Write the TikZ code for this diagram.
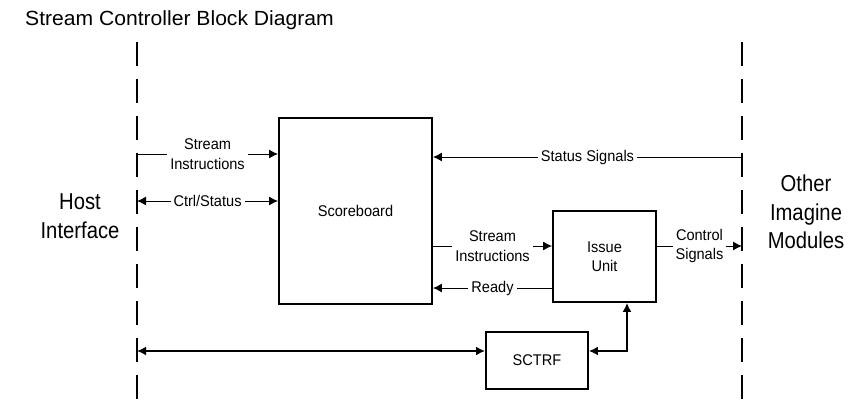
\documentclass[tikz,border=0pt]{standalone}
\usepackage{fontspec}
\setmainfont{Liberation Sans}
\newfontfamily\labfont[FakeStretch=0.94]{Liberation Sans}
\newfontfamily\bigfont[FakeStretch=0.88]{Liberation Sans}
\newfontfamily\titlefont[FakeStretch=1.03]{Liberation Sans}
\usepackage{tikz}
\usetikzlibrary{arrows.meta, calc, positioning}

\begin{document}
\begin{tikzpicture}[x=1pt, y=-1pt, >={Latex[length=9pt,width=9pt]},
    blk/.style={draw, line width=1.9pt, align=center, inner sep=0pt,
        font=\labfont\fontsize{15.5}{19}\selectfont},
    lbl/.style={fill=white, align=center, inner xsep=3pt, inner ysep=1pt,
        font=\labfont\fontsize{15.5}{19.5}\selectfont},
    sidetxt/.style={align=center, font=\bigfont\fontsize{23}{28.5}\selectfont},
    side/.style={dash pattern=on 24pt off 13pt, line width=2.6pt},
    thin/.style={line width=1pt},
    mid/.style={line width=1.6pt},
    fat/.style={line width=2.4pt}]
    \useasboundingbox (0,0) rectangle (858,416);

    % Tiêu đề
    \node[anchor=base west, inner sep=0pt, font=\titlefont\fontsize{20.5}{24}\selectfont]
        (title) at (25,25) {Stream Controller Block Diagram};

    % Hai đường biên
    \draw[side] (137,42) -- (137,405);
    \draw[side] (742,42) -- (742,405);
    \node[sidetxt] (host) at (80,216) {Host\\Interface};
    \node[sidetxt] (other) at (806,212) {Other\\Imagine\\Modules};

    % Các khối
    \node[blk, minimum width=153pt, minimum height=186pt] (sb) at (355.5,211) {Scoreboard};
    \node[blk, minimum width=103pt, minimum height=91pt] (iu) at (604.5,256.5) {Issue\\Unit};
    \node[blk, minimum width=102pt, minimum height=57pt] (rf) at (537,360.5) {SCTRF};

    % Điểm trên đường biên và các hàng
    \coordinate (hA) at (137,154);
    \coordinate (hB) at (137,201);
    \coordinate (hC) at (137,351);
    \coordinate (mA) at (742,157);
    \coordinate (mB) at (742,246);
    \coordinate (rS) at (0,246);
    \coordinate (rR) at (0,288);
    \coordinate (bend) at (627,351);

    % Các mũi tên
    \draw[thin,->] (hA) -- node[lbl] {Stream\\Instructions} (hA -| sb.west);
    \draw[thin,<->] (hB) -- node[lbl] {Ctrl/Status} (hB -| sb.west);
    \draw[thin,->] (mA) -- node[lbl] {Status Signals} (mA -| sb.east);
    \draw[thin,->] (sb.east |- rS) -- node[lbl] {Stream\\Instructions} (iu.west |- rS);
    \draw[thin,->] (iu.west |- rR) -- node[lbl] {Ready} (sb.east |- rR);
    \draw[thin,->] (iu.east |- rS) -- node[lbl] {Control\\Signals} (mB);
    \draw[fat,<->] (hC) -- (hC -| rf.west);
    \draw[mid,<->] (iu.south -| bend) -- (bend) -- (bend -| rf.east);

\end{tikzpicture}
\end{document}
